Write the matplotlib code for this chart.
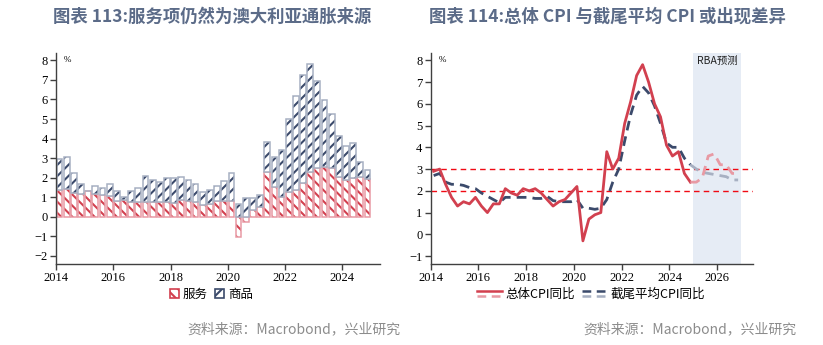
import numpy as np
import matplotlib
matplotlib.use('Agg')
import matplotlib.pyplot as plt
from matplotlib.legend_handler import HandlerBase
from matplotlib.lines import Line2D

plt.rcParams['font.family'] = ['Noto Sans CJK SC', 'DejaVu Sans']
plt.rcParams['hatch.linewidth'] = 1.5

# ---- data: quarterly, 2014Q1 .. 2024Q4 ----
quarters = np.arange(2014, 2025, 0.25) + 0.125

# left chart: contribution to CPI yoy (ppt)
services = [1.39, 1.41, 1.21, 1.16, 1.31, 1.16, 1.14, 1.04, 0.83, 0.88, 0.78, 0.75,
            0.75, 0.78, 0.78, 0.75, 0.72, 0.85, 0.80, 0.78, 0.58, 0.63, 0.80, 0.80,
            0.82, -1.02, -0.28, 0.36, 0.48, 2.31, 1.50, 0.99, 1.28, 1.39, 1.72, 2.28,
            2.52, 2.57, 2.52, 2.01, 1.87, 1.99, 2.04, 1.92]
goods = [1.55, 1.64, 1.05, 0.54, 0.0, 0.39, 0.34, 0.64, 0.48, 0.12, 0.53, 0.71,
         1.32, 1.09, 0.99, 1.21, 1.27, 1.21, 1.09, 0.89, 0.68, 0.76, 0.80, 1.02,
         1.44, 0.68, 0.94, 0.58, 0.61, 1.50, 1.56, 2.41, 3.72, 4.77, 5.52, 5.51,
         4.42, 3.38, 2.72, 2.11, 1.74, 1.77, 0.75, 0.46]

# right chart: headline and trimmed mean CPI yoy (%)
headline = [2.9, 3.0, 2.3, 1.7, 1.3, 1.5, 1.4, 1.7, 1.3, 1.0, 1.4, 1.4,
            2.1, 1.9, 1.8, 2.1, 2.0, 2.1, 1.9, 1.6, 1.3, 1.5, 1.6, 1.9,
            2.2, -0.3, 0.7, 0.9, 1.0, 3.8, 3.0, 3.5, 5.1, 6.1, 7.3, 7.8,
            7.0, 6.0, 5.4, 4.1, 3.6, 3.8, 2.8, 2.4]
trimmed = [2.7, 2.8, 2.4, 2.3, 2.3, 2.25, 2.15, 2.1, 1.9, 1.75, 1.6, 1.45,
           1.7, 1.7, 1.7, 1.7, 1.7, 1.65, 1.65, 1.75, 1.55, 1.5, 1.5, 1.5,
           1.6, 1.2, 1.2, 1.15, 1.2, 1.6, 2.4, 3.0, 4.3, 5.5, 6.4, 6.8,
           6.5, 5.9, 5.1, 4.2, 4.0, 4.0, 3.5, 3.2]

# RBA forecast, 2024Q4 .. 2026Q4
fcst_q = np.arange(2024.75, 2027, 0.25) + 0.125
headline_fcst = [2.4, 2.4, 2.6, 3.6, 3.7, 3.2, 3.2, 2.8, 2.8]
trimmed_fcst = [3.2, 3.0, 2.85, 2.8, 2.75, 2.7, 2.65, 2.5, 2.5]

years = list(range(2014, 2025, 2))
years_r = list(range(2014, 2027, 2))

RED = '#D2404F'
PINK = '#E89AA4'
NAVY = '#3B4A6B'
GREY = '#A7B0C2'
TITLE = '#5B6B88'
SPINE = '#404040'

fig = plt.figure(figsize=(8.23, 3.45), dpi=100)
ax1 = fig.add_axes([0.068, 0.235, 0.394, 0.611])
ax2 = fig.add_axes([0.5233, 0.235, 0.392, 0.611])


def style_axis(ax):
    for s in ['top', 'right']:
        ax.spines[s].set_visible(False)
    for s in ['left', 'bottom']:
        ax.spines[s].set_color(SPINE)
        ax.spines[s].set_linewidth(1.0)
    ax.tick_params(axis='both', direction='out', length=4, width=1, color=SPINE,
                   labelsize=9, pad=2)
    for lab in ax.get_xticklabels() + ax.get_yticklabels():
        lab.set_fontfamily('Liberation Serif')
    ax.text(0.025, 0.985, '%', transform=ax.transAxes, fontsize=6.5,
            va='top', ha='left', family='Liberation Serif')


# ---- left: services / goods stacked bars ----
svc = np.array(services)
gds = np.array(goods)
w = 0.2
bottom_g = np.where(svc > 0, svc, 0)

ax1.bar(quarters, svc, width=w, color='white', edgecolor=RED, hatch='\\\\\\', linewidth=0)
ax1.bar(quarters, svc, width=w, color='none', edgecolor=PINK, linewidth=1.1)
ax1.bar(quarters, gds, bottom=bottom_g, width=w, color='white', edgecolor=NAVY,
        hatch='///', linewidth=0)
ax1.bar(quarters, gds, bottom=bottom_g, width=w, color='none', edgecolor=GREY,
        linewidth=1.1)

ax1.set_xlim(2014, 2025.32)
ax1.set_ylim(-2.41, 8.37)
ax1.set_yticks(range(-2, 9))
ax1.set_xticks(years)
style_axis(ax1)

h_s = plt.Rectangle((0, 0), 1, 1, facecolor='white', edgecolor=RED, hatch='\\\\\\', lw=1.2)
h_g = plt.Rectangle((0, 0), 1, 1, facecolor='white', edgecolor=NAVY, hatch='///', lw=1.2)
ax1.legend([h_s, h_g], ['服务', '商品'], loc='upper center', bbox_to_anchor=(0.48, -0.09),
           ncol=2, frameon=False, fontsize=9, handlelength=0.7, handleheight=0.7,
           handletextpad=0.3, columnspacing=0.6, borderaxespad=0)

# ---- right: headline vs trimmed mean ----
ax2.axvspan(2025, 2027, color='#E6ECF5', lw=0, zorder=0)
ax2.axhline(3, color='#F00A14', lw=1, dashes=(4, 3), zorder=1)
ax2.axhline(2, color='#F00A14', lw=1, dashes=(4, 3), zorder=1)

l_h, = ax2.plot(quarters, headline, color=RED, lw=2, zorder=3)
l_hf, = ax2.plot(fcst_q, headline_fcst, color=PINK, lw=2, dashes=(3.5, 2.2), zorder=3)
l_t, = ax2.plot(quarters, trimmed, color=NAVY, lw=2, dashes=(3.5, 2.2), zorder=2)
l_tf, = ax2.plot(fcst_q, trimmed_fcst, color=GREY, lw=2, dashes=(3.5, 2.2), zorder=2)

ax2.text(2026, 7.95, 'RBA预测', fontsize=7.5, ha='center', va='center', color='#222222')

ax2.set_xlim(2014, 2027.51)
ax2.set_ylim(-1.36, 8.33)
ax2.set_yticks(range(-1, 9))
ax2.set_xticks(years_r)
style_axis(ax2)


class StackedLines(HandlerBase):
    # actual series on top, forecast below, like the source legend
    def create_artists(self, legend, orig_handle, xdescent, ydescent, width, height,
                       fontsize, trans):
        arts = []
        for ln, yf in zip(orig_handle, (0.75, 0.2)):
            a = Line2D([-xdescent, -xdescent + width], [yf * height - ydescent] * 2)
            a.update_from(ln)
            a.set_linewidth(1.8)
            a.set_clip_on(False)
            a.set_clip_box(None)
            a.set_transform(trans)
            arts.append(a)
        return arts


ax2.legend([(l_h, l_hf), (l_t, l_tf)], ['总体CPI同比', '截尾平均CPI同比'],
           handler_map={tuple: StackedLines()}, loc='upper center',
           bbox_to_anchor=(0.497, -0.09), ncol=2, frameon=False, fontsize=9,
           handlelength=2.0, handletextpad=0.3, columnspacing=0.5, borderaxespad=0)

# ---- titles and sources ----
fig.text(0.258, 0.951, '图表 113:服务项仍然为澳大利亚通胀来源', ha='center', va='center',
         fontsize=12.5, fontweight='bold', color=TITLE)
fig.text(0.738, 0.951, '图表 114:总体 CPI 与截尾平均 CPI 或出现差异', ha='center', va='center',
         fontsize=12.5, fontweight='bold', color=TITLE)
fig.text(0.487, 0.045, '资料来源：Macrobond，兴业研究', ha='right', va='center',
         fontsize=10, color='#8C8C8C')
fig.text(0.968, 0.045, '资料来源：Macrobond，兴业研究', ha='right', va='center',
         fontsize=10, color='#8C8C8C')

fig.savefig('out.png', dpi=100)
